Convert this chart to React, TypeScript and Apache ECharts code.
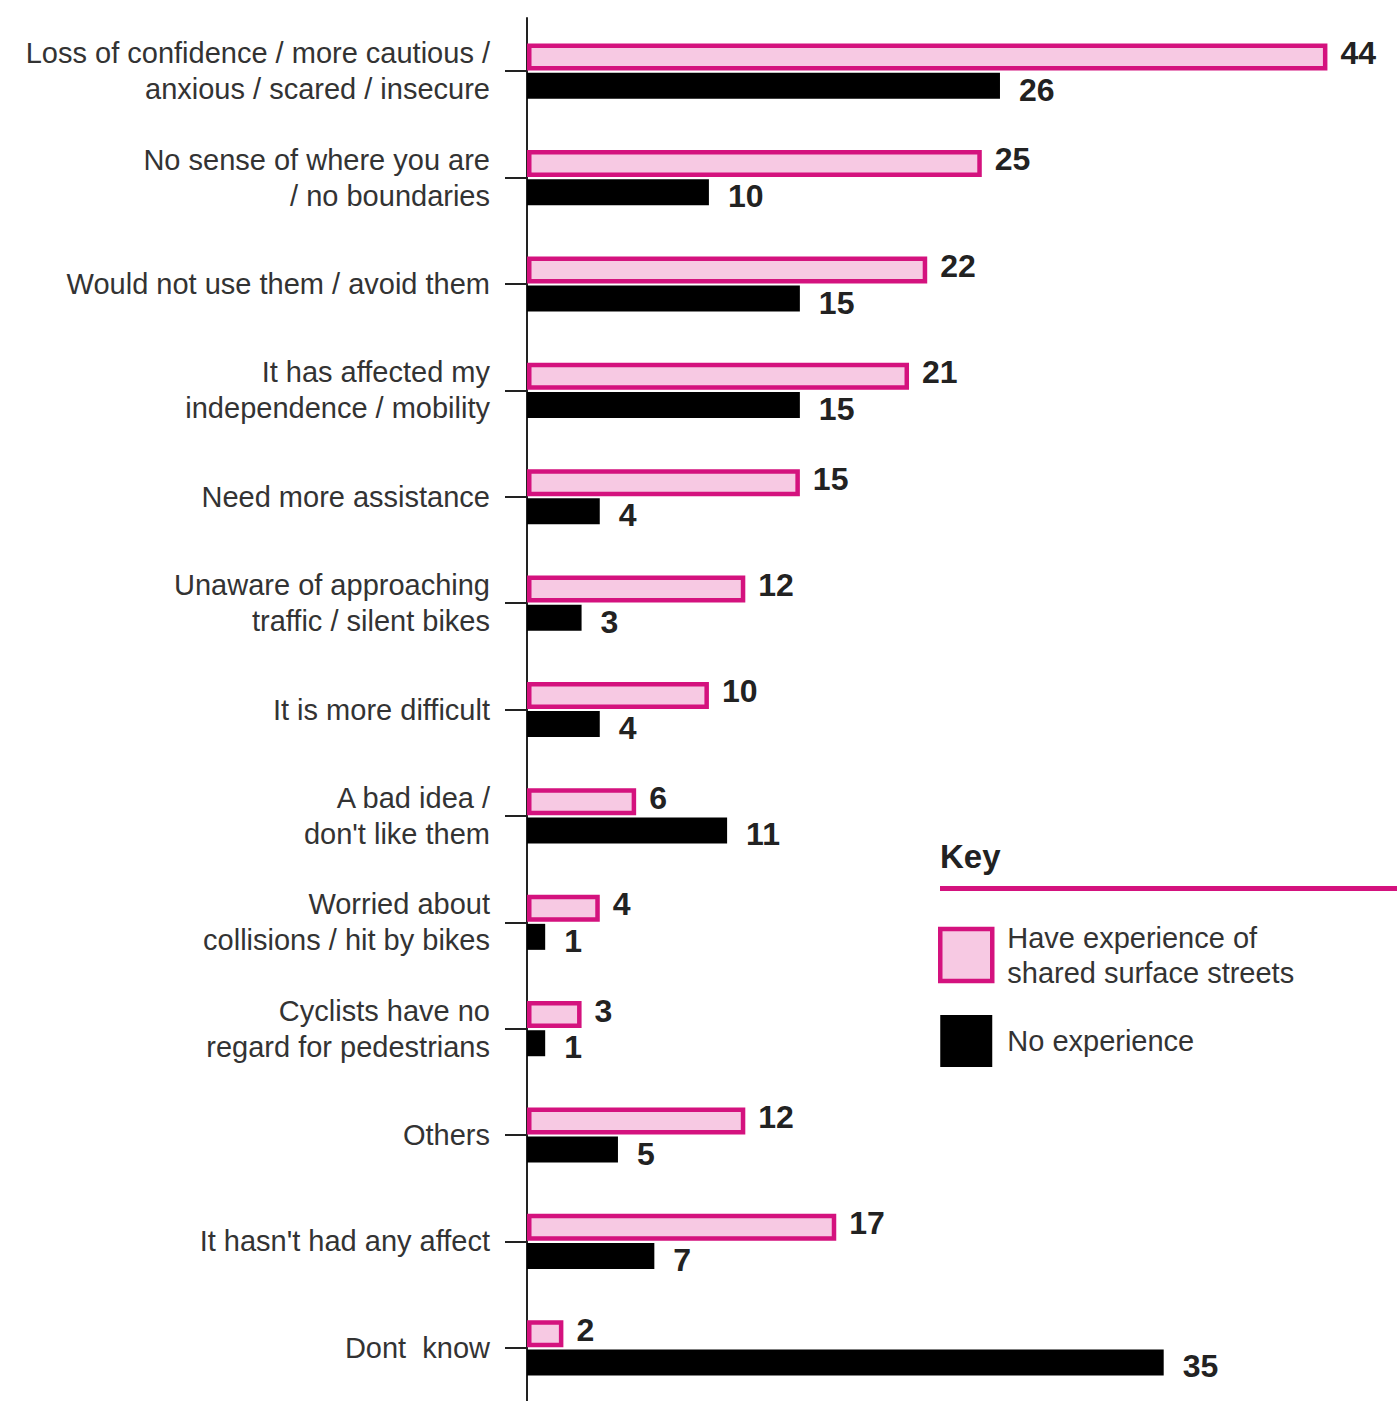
import React, { useEffect, useRef } from "react";
import * as echarts from "echarts";

const categories = [
  "Loss of confidence / more cautious /\nanxious / scared / insecure",
  "No sense of where you are\n/ no boundaries",
  "Would not use them / avoid them",
  "It has affected my\nindependence / mobility",
  "Need more assistance",
  "Unaware of approaching\ntraffic / silent bikes",
  "It is more difficult",
  "A bad idea /\ndon't like them",
  "Worried about\ncollisions / hit by bikes",
  "Cyclists have no\nregard for pedestrians",
  "Others",
  "It hasn't had any affect",
  "Dont  know",
];
const experienced = [44, 25, 22, 21, 15, 12, 10, 6, 4, 3, 12, 17, 2];
const noExperience = [26, 10, 15, 15, 4, 3, 4, 11, 1, 1, 5, 7, 35];
const seriesNames = ["Have experience of shared surface streets", "No experience"];

const MAGENTA = "#d4127e";
const PINK = "#f7c9e3";
const FONT = "Liberation Sans, Arial, sans-serif";

export default function App() {
  const ref = useRef<HTMLDivElement>(null);
  useEffect(() => {
    const chart = echarts.init(ref.current!, null, { renderer: "svg" });
    chart.setOption({
      animation: false,
      backgroundColor: "#fff",
      textStyle: { fontFamily: FONT },
      grid: { left: 527, right: 15, top: 18, bottom: -9 },
      xAxis: {
        type: "value",
        min: 0,
        max: 47,
        show: false,
      },
      yAxis: {
        type: "category",
        inverse: true,
        data: categories,
        axisLine: { show: true, lineStyle: { color: "#222", width: 2 } },
        axisTick: { show: true, alignWithLabel: true, length: 22, lineStyle: { color: "#222", width: 2 } },
        axisLabel: {
          margin: 37,
          fontSize: 29,
          lineHeight: 36,
          color: "#333",
          fontFamily: FONT,
          align: "right",
        },
      },
      legend: {
        orient: "vertical",
        left: 938,
        top: 920,
        padding: 0,
        icon: "rect",
        itemWidth: 52,
        itemHeight: 52,
        itemGap: 25,
        data: [
          { name: seriesNames[0], itemStyle: { color: PINK, borderColor: MAGENTA, borderWidth: 4.5 } },
          { name: seriesNames[1], itemStyle: { color: "#000" } },
        ],
        formatter: (name: string) =>
          name === seriesNames[0] ? "Have experience of\nshared surface streets" : name,
        textStyle: {
          fontSize: 29,
          lineHeight: 35,
          color: "#333",
          fontFamily: FONT,
          padding: [0, 0, 0, 10],
        },
      },
      graphic: [
        {
          type: "text",
          left: 940,
          top: 840,
          style: { text: "Key", font: `bold 33px ${FONT}`, fill: "#222" },
        },
        {
          type: "rect",
          shape: { x: 940, y: 886, width: 460, height: 5 },
          style: { fill: MAGENTA },
        },
      ],
      series: [
        {
          name: seriesNames[0],
          type: "bar",
          data: experienced,
          barWidth: 27,
          barGap: "8%",
          itemStyle: { color: PINK, borderColor: MAGENTA, borderWidth: 4.5 },
          label: {
            show: true,
            position: "right",
            distance: 13,
            offset: [0, -4],
            fontSize: 32,
            fontWeight: "bold",
            color: "#222",
            fontFamily: FONT,
          },
        },
        {
          name: seriesNames[1],
          type: "bar",
          data: noExperience,
          barWidth: 26,
          itemStyle: { color: "#000" },
          label: {
            show: true,
            position: "right",
            distance: 19,
            offset: [0, 4],
            fontSize: 32,
            fontWeight: "bold",
            color: "#222",
            fontFamily: FONT,
          },
        },
      ],
    });
    return () => chart.dispose();
  }, []);
  return <div ref={ref} style={{ width: 1397, height: 1401, position: "absolute", left: 0, top: 0 }} />;
}
